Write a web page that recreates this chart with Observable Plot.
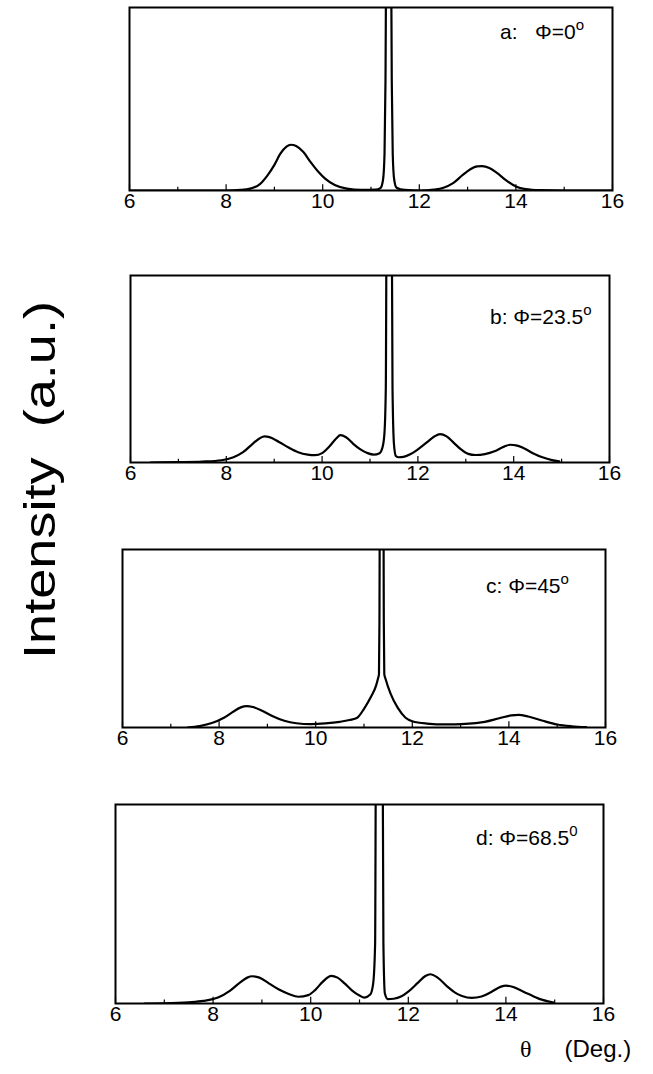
<!DOCTYPE html>
<html><head><meta charset="utf-8">
<script src="https://cdn.jsdelivr.net/npm/d3@7"></script>
<script src="https://cdn.jsdelivr.net/npm/@observablehq/plot@0.6"></script>
<style>
body{margin:0;background:#fff;}
#wrap{position:relative;width:653px;height:1074px;overflow:hidden;font-family:"Liberation Sans",Arial,sans-serif;color:#000;}
.panel{position:absolute;left:0;}
.lab{position:absolute;font-size:21px;white-space:pre;line-height:1;}
.lab sup{font-size:15px;vertical-align:9px;line-height:0;}
</style></head><body><div id="wrap"></div>
<script>
// ---- data (theta in degrees, intensity in % of panel full scale; values >100 run off the top) ----
const xTicks = [6, 8, 10, 12, 14, 16];
const minorTicks = [6, 7, 8, 9, 10, 11, 12, 13, 14, 15, 16];

const thetaA = [6.0,7.0,8.0,8.3,8.5,8.7,8.85,9.0,9.12,9.25,9.34,9.45,9.6,9.75,9.9,10.05,10.25,10.5,10.8,11.1,11.2,11.25,11.28,11.3,11.32,11.41,11.43,11.45,11.48,11.53,11.7,12.0,12.3,12.5,12.7,12.9,13.05,13.2,13.3,13.45,13.6,13.8,14.0,14.2,14.5,15.0,16.0];
const intensityA = [0,0,0,0.3,1,3.5,8,14,20,24,25,24.3,21,15.5,10.5,6.5,3,1,0.3,0.5,1.5,6,20,60,150,150,60,20,6,1.5,0.3,0,0.5,1.5,4,8.5,11.5,13.2,13.3,12.3,9.8,5.5,2.2,0.8,0.2,0,0];

const thetaB = [6.42,7.0,7.5,7.9,8.15,8.35,8.55,8.7,8.8,8.9,9.1,9.3,9.5,9.7,9.85,10.0,10.15,10.3,10.38,10.5,10.65,10.8,10.95,11.08,11.2,11.26,11.3,11.33,11.35,11.45,11.47,11.5,11.54,11.6,11.7,11.85,12.0,12.2,12.35,12.46,12.6,12.75,12.9,13.05,13.2,13.4,13.6,13.8,13.93,14.05,14.2,14.4,14.6,14.8,14.95];
const intensityB = [0,0.2,0.5,1.2,2.8,5.5,10,13,14,13.6,11,8,5.5,4.2,3.9,5,8.5,13,14.6,13.5,10,7,5,4.2,5,8,15,40,150,150,40,10,3.5,2.8,3,4.5,7,11,14,15.2,14,10.5,7,4.6,4,4.5,6,8.5,9.5,9.2,7.8,5,2.8,1.3,0.6];

const thetaC = [7.35,7.6,7.85,8.1,8.3,8.45,8.57,8.7,8.9,9.1,9.35,9.6,9.9,10.2,10.5,10.7,10.86,11.0,11.15,11.25,11.29,11.31,11.32,11.33,11.40,11.41,11.42,11.45,11.55,11.7,11.86,12.0,12.3,12.7,13.1,13.5,13.8,14.05,14.2,14.4,14.7,15.0,15.3,15.6];
const intensityC = [0,0.8,2.5,5.5,9,11.3,12,11.5,9.3,6.5,3.8,2.4,1.9,2.3,3.2,4.2,5.5,10.5,17.5,23.5,27.5,30,60,150,150,60,30,27,19,11,5.5,3.5,2.2,1.7,2,3.2,5.2,6.8,7.1,6.2,3.8,1.7,0.7,0.2];

const thetaD = [6.6,7.0,7.5,7.8,8.1,8.35,8.55,8.7,8.8,8.95,9.15,9.35,9.55,9.75,9.95,10.1,10.25,10.42,10.55,10.7,10.85,11.0,11.1,11.22,11.28,11.32,11.34,11.47,11.49,11.52,11.58,11.7,11.85,12.0,12.2,12.35,12.45,12.6,12.8,12.95,13.1,13.3,13.5,13.7,13.9,14.0,14.15,14.35,14.55,14.75,14.98];
const intensityD = [0,0.1,0.6,1.3,3,6.5,10.5,13,13.7,13,10,7,4.8,3.4,4.2,7,11,13.9,13,10,6.5,4,3,4.5,10,30,150,150,30,5,2.2,2.4,3.5,6,10.5,13.8,14.7,13,8.5,5.6,3.8,2.8,3.5,5.8,8.5,9,8.3,6,3.8,1.8,0.5];

const panelLetters = ["a", "b", "c", "d"];
const phiValues = ["0", "23.5", "45", "68.5"];
const degreeMarks = ["o", "o", "o", "0"];
const yTitle = "Intensity  (a.u.)";
const xTitleSymbol = "θ";
const xTitleUnit = "(Deg.)";

// ---- layout ----
const W = 653;
const series = [[thetaA, intensityA], [thetaB, intensityB], [thetaC, intensityC], [thetaD, intensityD]];
const boxes = [
  {left: 129, right: 612, top: 7, bottom: 190},
  {left: 130, right: 609, top: 275, bottom: 462},
  {left: 122, right: 605, top: 549, bottom: 727},
  {left: 115, right: 603, top: 804, bottom: 1003}
];
const labelPos = [
  {x: 500, y: 21, gap: "   "},
  {x: 490, y: 306, gap: " "},
  {x: 486, y: 575, gap: " "},
  {x: 476, y: 827, gap: " "}
];

const wrap = document.getElementById("wrap");
const padTop = 6, padBottom = 34;

series.forEach(([xs, ys], i) => {
  const b = boxes[i];
  const data = xs.map((x, k) => ({theta: x, intensity: ys[k]}));
  const chart = Plot.plot({
    width: W,
    height: (b.bottom - b.top) + padTop + padBottom,
    marginTop: padTop,
    marginBottom: padBottom,
    marginLeft: b.left,
    marginRight: W - b.right,
    style: {background: "transparent", fontFamily: "Liberation Sans, Arial, sans-serif", color: "#000"},
    x: {domain: [6, 16], label: null},
    y: {domain: [0, 100], axis: null},
    marks: [
      Plot.ruleX(minorTicks, {x: d => d, y1: 0, y2: d => (d % 2 === 0 ? 3.2 : 1.8), stroke: "#000", strokeWidth: 1.2}),
      Plot.line(data, {x: "theta", y: "intensity", curve: "monotone-x", stroke: "#000", strokeWidth: 2.2, clip: true}),
      Plot.frame({stroke: "#000", strokeWidth: 2}),
      Plot.axisX(xTicks, {label: null, tickSize: 0, tickPadding: 3, fontSize: 21, tickFormat: d => String(d)})
    ]
  });
  chart.classList.add("panel");
  chart.style.top = (b.top - padTop) + "px";
  wrap.appendChild(chart);

  const L = labelPos[i];
  const lab = document.createElement("div");
  lab.className = "lab";
  lab.style.left = L.x + "px";
  lab.style.top = L.y + "px";
  lab.innerHTML = `${panelLetters[i]}:${L.gap}Φ=${phiValues[i]}<sup>${degreeMarks[i]}</sup>`;
  wrap.appendChild(lab);
});

// y title (rotated)
const ns = "http://www.w3.org/2000/svg";
const tsvg = document.createElementNS(ns, "svg");
tsvg.setAttribute("width", 100);
tsvg.setAttribute("height", 1074);
tsvg.style.position = "absolute";
tsvg.style.left = "0px";
tsvg.style.top = "0px";
const t = document.createElementNS(ns, "text");
t.setAttribute("transform", "translate(55,480) rotate(-90)");
t.setAttribute("text-anchor", "middle");
t.setAttribute("font-size", "44");
t.setAttribute("font-family", "Liberation Sans, Arial, sans-serif");
t.setAttribute("textLength", "358");
t.setAttribute("lengthAdjust", "spacingAndGlyphs");
t.setAttribute("xml:space", "preserve");
t.style.whiteSpace = "pre";
t.textContent = yTitle;
tsvg.appendChild(t);
wrap.appendChild(tsvg);

// x title
const xt = document.createElement("div");
xt.style.position = "absolute";
xt.style.left = "520px";
xt.style.top = "1035px";
xt.style.fontSize = "24px";
xt.style.whiteSpace = "pre";
xt.innerHTML = `<span style="font-family:'Liberation Serif','Times New Roman',serif;font-size:24px">${xTitleSymbol}</span><span style="display:inline-block;width:33px"></span>${xTitleUnit}`;
wrap.appendChild(xt);
</script>
</body></html>
